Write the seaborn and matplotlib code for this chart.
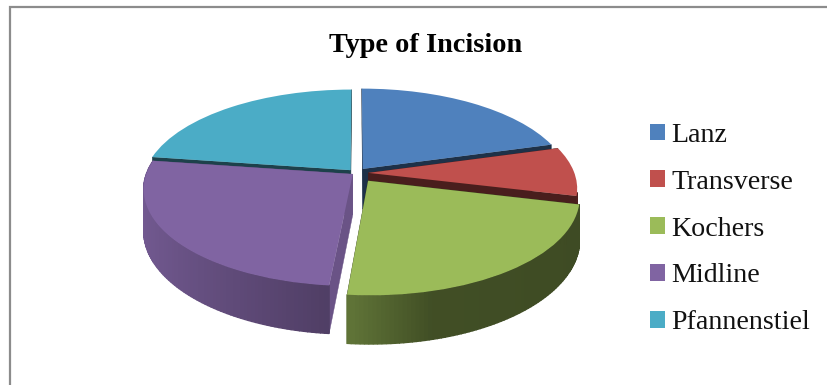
import numpy as np
import matplotlib
matplotlib.use("Agg")
import matplotlib.pyplot as plt
from matplotlib.transforms import Transform
import seaborn as sns

title = "Type of Incision"
categories = ["Lanz", "Transverse", "Kochers", "Midline", "Pfannenstiel"]
values = [20.6, 8.2, 22.7, 25.8, 22.7]
explode = [0.055, 0.06, 0.10, 0.02, 0.04]
hex_colors = ["#4F81BD", "#C0504D", "#9BBB59", "#8064A2", "#4BACC6"]

sns.set_theme(style="white")
plt.rcParams["font.family"] = ["Liberation Serif", "DejaVu Serif"]
palette = sns.color_palette(hex_colors)

CX, CY, RX, RY, K, DEPTH = 356.0, 173.0, 206.0, 94.0, 0.156, 40.5


def project(x, y, z=0.0):
    x, y = np.asarray(x, float), np.asarray(y, float)
    w = 1 + K * y
    return CX + RX * x / w, CY - RY * y / w + z * DEPTH / w


class Tilt(Transform):
    input_dims = output_dims = 2
    is_separable = False
    has_inverse = False

    def transform_non_affine(self, xy):
        xy = np.asarray(xy, float)
        px, py = project(xy[:, 0], xy[:, 1])
        return np.column_stack([px, py])


def shade(c, f):
    return tuple(min(1.0, v * f) for v in c)


def wall_factor(t):
    return np.interp(np.cos(t), [-1.0, -0.08, 0.25, 1.0], [0.90, 0.62, 0.42, 0.40])


fig = plt.figure(figsize=(8.27, 3.85), dpi=100)
ax = fig.add_axes([0, 0, 1, 1])
wedges, _ = ax.pie(values, colors=palette, explode=explode, startangle=90,
                   counterclock=False, radius=1.0,
                   wedgeprops=dict(linewidth=0))
ax.set_aspect("auto")
ax.set_xlim(0, 827)
ax.set_ylim(385, 0)
ax.axis("off")

tilt = Tilt()
order = [4, 0, 1, 3, 2]
for z_base, i in enumerate(order):
    wedge, color = wedges[i], palette[i]
    cx0, cy0 = wedge.center
    t1, t2 = np.radians(wedge.theta1), np.radians(wedge.theta2)
    # flat cut faces at both slice edges
    for t in (t2, t1):
        ox, oy = cx0 + np.cos(t), cy0 + np.sin(t)
        fac = 0.83 if i == 3 else 0.38
        xa, ya = project([cx0, ox], [cy0, oy])
        xb, yb = project([ox, cx0], [oy, cy0], 1.0)
        ax.fill(np.r_[xa, xb], np.r_[ya, yb], color=shade(color, fac), lw=0.3,
                zorder=z_base * 10 + 1)
    # curved outer wall, shaded strip by strip (only the part facing the viewer)
    edges = np.linspace(t1, t2, max(4, int(np.degrees(t2 - t1))) + 1)
    for a, b in zip(edges[:-1], edges[1:]):
        mid = (a + b) / 2
        if np.sin(mid) > 0.14 or (np.cos(mid) > 0 and np.sin(mid) > -0.2):
            continue
        tt = np.array([a, b])
        xa, ya = project(cx0 + np.cos(tt), cy0 + np.sin(tt))
        xb, yb = project(cx0 + np.cos(tt[::-1]), cy0 + np.sin(tt[::-1]), 1.0)
        c = shade(color, float(wall_factor(mid)))
        ax.fill(np.r_[xa, xb], np.r_[ya, yb], color=c, lw=1.0, zorder=z_base * 10 + 2)
    wedge.set_transform(tilt + ax.transData)
    wedge.set_zorder(z_base * 10 + 3)

ax.plot([9.5, 9.5, 827], [385, 6.5, 6.5], color="#8c8c8c", lw=1.6, zorder=0,
        solid_joinstyle="miter")

ax.text(425.5, 46, title, ha="center", va="center", fontsize=20.3, fontweight="bold",
        color="black")

leg = ax.legend(wedges, categories, loc="center left",
                bbox_to_anchor=(650 / 827, 1 - 229 / 385), frameon=False,
                fontsize=20.2, handlelength=0.53, handleheight=0.53, handletextpad=0.22,
                labelspacing=0.78, borderpad=0, borderaxespad=0)
for txt in leg.get_texts():
    txt.set_color("#111111")

fig.savefig("out.png", dpi=100)
